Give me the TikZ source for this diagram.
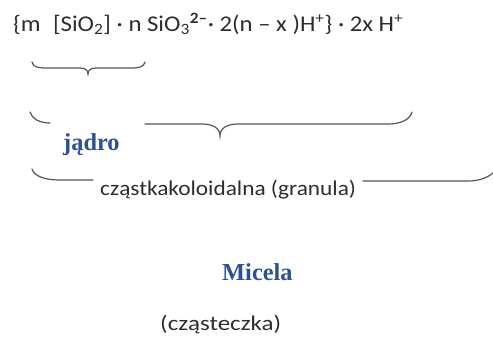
\documentclass[tikz,border=0pt]{standalone}
\usepackage{fontspec}
\setmainfont{Carlito}
\newfontfamily\serifb{Liberation Serif}
\definecolor{headblue}{RGB}{44,82,148}
\definecolor{txt}{RGB}{45,45,45}
\definecolor{bracecol}{RGB}{85,85,85}
\tikzset{
  lbl/.style={anchor=base west, inner sep=0pt, text=txt},
  head/.style={anchor=base west, inner sep=0pt, text=headblue, font=\serifb\bfseries\fontsize{24.4}{27}\selectfont},
  bracepath/.style={draw=bracecol, line width=1.2pt, line cap=round}
}
\begin{document}
\begin{tikzpicture}[x=1pt,y=-1pt]
\useasboundingbox (0,0) rectangle (493,338);
% formula
\node[lbl, font=\fontsize{22.5}{25}\selectfont] (formula) at (13,31)
  {\scalebox{1.1}[1]{\{m\hspace{0.5em}[SiO\textsubscript{2}]\ ·\ n SiO\textsubscript{3}\textsuperscript{\textbf{2–}}·\ 2(n – x )H\textsuperscript{+}\}\ ·\ 2x H\textsuperscript{+}}};
% brace 1
\draw[bracepath] (32,62) .. controls (33,67) and (38,68) .. (46,68) -- (80,68)
  .. controls (85,68) and (88,70) .. (88,74) .. controls (88,70) and (91,68) .. (96,68)
  -- (131,68) .. controls (139,68) and (144,67) .. (145,62);
% brace 2
\draw[bracepath] (30,112) .. controls (32,119) and (40,123) .. (50,123);
\draw[bracepath] (145,124) -- (202,124) .. controls (213,124) and (220,128) .. (220,136)
  .. controls (220,128) and (227,124) .. (238,124) -- (388,124)
  .. controls (400,124) and (410,120) .. (412,112);
% brace 3
\draw[bracepath] (32,169) .. controls (34,176) and (44,180) .. (60,180) -- (93,180);
\draw[bracepath] (363,181) -- (468,181) .. controls (480,181) and (490,177) .. (496,170);
% labels
\node[head] (jadro) at (63,150) {jądro};
\node[lbl, font=\fontsize{21}{24}\selectfont] (granula) at (100,195) {\scalebox{1.11}[1]{cząstkakoloidalna (granula)}};
\node[head] (micela) at (222,280) {Micela};
\node[lbl, font=\fontsize{21}{24}\selectfont] (czasteczka) at (160,330) {\scalebox{1.19}[1]{(cząsteczka)}};
\end{tikzpicture}
\end{document}
